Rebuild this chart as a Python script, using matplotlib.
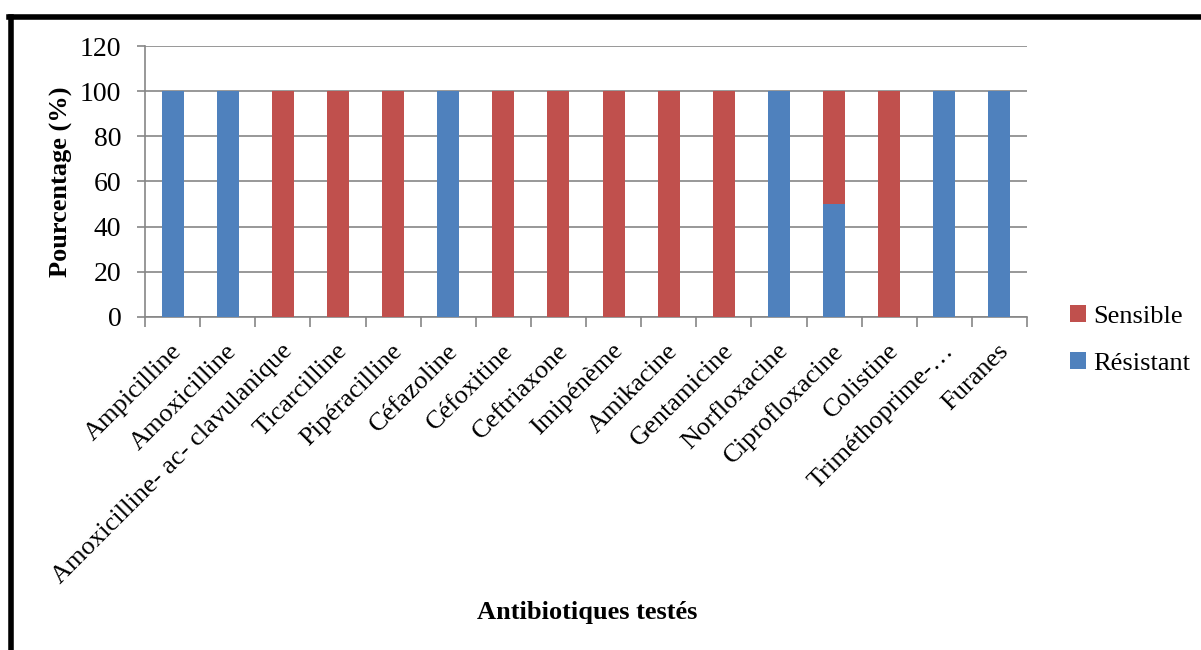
import numpy as np
import matplotlib.pyplot as plt
from matplotlib.lines import Line2D
from matplotlib.transforms import ScaledTranslation

plt.rcParams['font.family'] = ['Liberation Serif', 'DejaVu Serif']

# données
antibiotiques = ['Ampicilline', 'Amoxicilline', 'Amoxicilline- ac- clavulanique',
                 'Ticarcilline', 'Pipéracilline', 'Céfazoline', 'Céfoxitine',
                 'Ceftriaxone', 'Imipénème', 'Amikacine', 'Gentamicine',
                 'Norfloxacine', 'Ciprofloxacine', 'Colistine',
                 'Triméthoprime-…', 'Furanes']
resistant = [100, 100, 0, 0, 0, 100, 0, 0, 0, 0, 0, 100, 50, 0, 100, 100]
sensible = [0, 0, 100, 100, 100, 0, 100, 100, 100, 100, 100, 0, 50, 100, 0, 0]

bleu = '#4F81BD'
rouge = '#C0504D'
gris = '#868686'

fig = plt.figure(figsize=(12.01, 6.5), dpi=100)
fig.subplots_adjust(left=145/1201, right=1027/1201, top=1-46/650, bottom=1-317/650)
ax = fig.add_subplot(111)

x = np.arange(len(antibiotiques))
ax.bar(x, resistant, width=0.4, color=bleu, label='Résistant', zorder=3)
ax.bar(x, sensible, width=0.4, bottom=resistant, color=rouge, label='Sensible', zorder=3)

ax.set_xlim(-0.5, len(antibiotiques) - 0.5)
ax.set_ylim(0, 120)
ax.set_yticks(range(0, 121, 20))
ax.yaxis.grid(True, color=gris, linewidth=1.2, zorder=0)

for s in ['top', 'right']:
    ax.spines[s].set_visible(False)
for s in ['left', 'bottom']:
    ax.spines[s].set_color(gris)
    ax.spines[s].set_linewidth(1.2)

ax.tick_params(axis='y', length=6, width=1.2, color=gris, pad=11, labelsize=20)
ax.set_xticks(x)
ax.set_xticks(np.arange(-0.5, len(antibiotiques), 1), minor=True)
ax.tick_params(axis='x', which='major', length=0, pad=22)
ax.tick_params(axis='x', which='minor', length=7, width=1.2, color=gris)
ax.set_xticklabels(antibiotiques, rotation=45, ha='right', va='center',
                   rotation_mode='anchor', fontsize=19)
for lab in ax.get_xticklabels():
    lab.set_transform(lab.get_transform() + ScaledTranslation(0.06, 0, fig.dpi_scale_trans))

ax.set_ylabel('Pourcentage (%)', fontsize=19, fontweight='bold', labelpad=5)
fig.text(587/1201, 1-612/650, 'Antibiotiques testés', fontsize=19,
         fontweight='bold', ha='center', va='center')

handles, labels = ax.get_legend_handles_labels()
fig.legend(handles[::-1], labels[::-1], loc='center left',
           bbox_to_anchor=(1046/1201, 1-340/650), frameon=False, fontsize=19,
           handlelength=0.6, handleheight=0.6, handletextpad=0.3, labelspacing=0.9)

# cadre
fig.add_artist(Line2D([10.5/1201, 10.5/1201], [0, 1-16.5/650], color='black',
                      linewidth=4, transform=fig.transFigure))
fig.add_artist(Line2D([8.5/1201, 1], [1-16.5/650, 1-16.5/650], color='black',
                      linewidth=4, transform=fig.transFigure))

fig.savefig('out.png', dpi=100)
